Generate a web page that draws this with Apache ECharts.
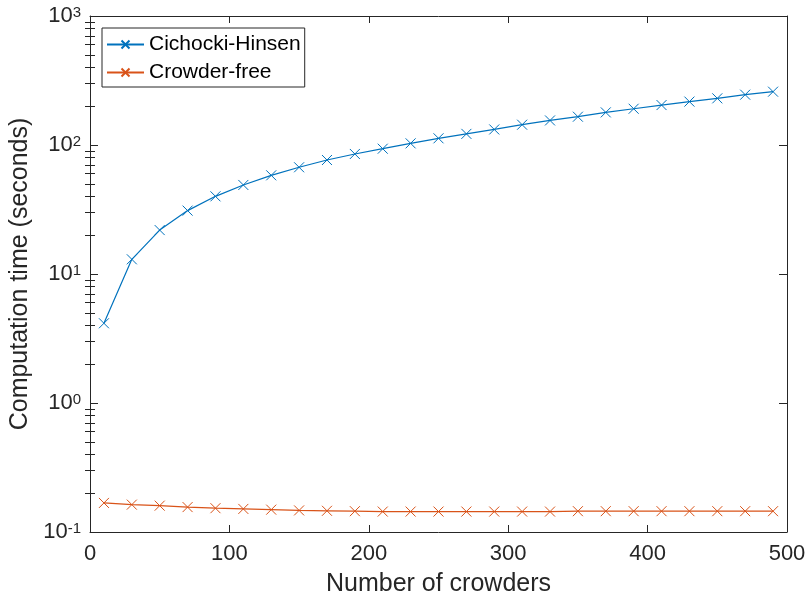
<!DOCTYPE html>
<html><head><meta charset="utf-8">
<script src="https://cdn.jsdelivr.net/npm/echarts@6/dist/echarts.min.js"></script>
<style>html,body{margin:0;padding:0;background:#fff}#c{width:807px;height:606px}</style>
</head><body><div id="c"></div>
<script>
// ---- data ----
const crowders = [10,30,50,70,90,110,130,150,170,190,210,230,250,270,290,310,330,350,370,390,410,430,450,470,490];
const cichockiHinsen = [4.15,13.0,21.9,31.0,40.0,49.0,58.2,67.2,76.5,85.2,93.6,103,112.7,122,132,143.7,155,165.7,179,191,204,217,230,245.5,259];
const crowderFree = [0.168,0.163,0.160,0.156,0.153,0.151,0.149,0.147,0.146,0.145,0.144,0.144,0.144,0.144,0.144,0.144,0.144,0.145,0.145,0.145,0.145,0.145,0.145,0.145,0.145];
const seriesNames = ['Cichocki-Hinsen','Crowder-free'];
const xTicks = [0,100,200,300,400,500];
const yExponents = [-1,0,1,2,3];

const FONT = 'Liberation Sans, Arial, Helvetica, sans-serif';
const AX = '#262626';
const minorLogs = [];
for (let d = yExponents[0]; d < yExponents[yExponents.length-1]; d++)
  for (let k = 2; k <= 9; k++) minorLogs.push(Math.log10(k) + d);

const xmin = xTicks[0], xmax = xTicks[xTicks.length-1];
const ymin = Math.pow(10, yExponents[0]), ymax = Math.pow(10, yExponents[yExponents.length-1]);

function xAx(pos, labels) {
  return {type:'value', position:pos, min:xmin, max:xmax, interval:100,
    axisLine:{show:true, onZero:false, lineStyle:{color:AX, width:1}},
    axisTick:{show:true, inside:true, length:7, lineStyle:{color:AX}},
    axisLabel:{show:labels, color:AX, fontSize:22, fontFamily:FONT, margin:11},
    splitLine:{show:false}};
}
function yLog(pos, labels) {
  return {type:'log', logBase:10, position:pos, min:ymin, max:ymax,
    axisLine:{show:true, onZero:false, lineStyle:{color:AX, width:1}},
    axisTick:{show:true, inside:true, length:8, lineStyle:{color:AX}},
    axisLabel:{show:labels, margin:9,
      formatter: v => '{b|10}{s|' + Math.round(Math.log10(v)) + '}',
      rich:{
        b:{fontSize:22, fontFamily:FONT, color:AX, verticalAlign:'bottom', lineHeight:22, padding:[10,0,0,0]},
        s:{fontSize:15, fontFamily:FONT, color:AX, verticalAlign:'top', lineHeight:15, padding:[0,0,17,0]}
      }},
    splitLine:{show:false}, minorTick:{show:false}};
}
function yMinor(pos) {
  return {type:'value', position:pos, min:yExponents[0], max:yExponents[yExponents.length-1],
    axisLine:{show:false},
    axisTick:{show:true, inside:true, length:5, customValues:minorLogs, lineStyle:{color:AX}},
    axisLabel:{show:false}, splitLine:{show:false}};
}

const chart = echarts.init(document.getElementById('c'), null, {renderer:'canvas'});
const blue = '#0072BD', orange = '#D95319';
const xsym = 'path://M0,0L10,10M10,0L0,10';
function mk(name, vals, color) {
  return {name, type:'line', xAxisIndex:0, yAxisIndex:0,
    data: crowders.map((x,i)=>[x, vals[i]]),
    symbol:xsym, symbolSize:10, showSymbol:true,
    lineStyle:{color, width:1.2},
    itemStyle:{color:'none', borderColor:color, borderWidth:1},
    emphasis:{disabled:true}, animation:false, z:3};
}
const xAy = Object.assign(xAx('bottom', true), {
  name:'Number of crowders', nameLocation:'middle', nameGap:40,
  nameTextStyle:{fontSize:25, fontFamily:FONT, color:AX}});
const yAy = Object.assign(yLog('left', true), {
  name:'Computation time (seconds)', nameLocation:'middle', nameGap:55,
  nameTextStyle:{fontSize:25, fontFamily:FONT, color:AX}});

chart.setOption({
  backgroundColor:'#fff',
  animation:false,
  grid:{left:90, right:20, top:16, bottom:74, containLabel:false, outerBoundsMode:'none'},
  xAxis:[xAy, xAx('top', false)],
  yAxis:[yAy, yLog('right', false), yMinor('left'), yMinor('right')],
  legend:{show:true, left:102, top:28, orient:'vertical', backgroundColor:'#fff',
    borderColor:AX, borderWidth:1, borderRadius:0, padding:[6,4,4,4], itemGap:7,
    itemWidth:37, itemHeight:10,
    textStyle:{fontSize:21, fontFamily:FONT, color:'#000'},
    data: seriesNames},
  series:[mk(seriesNames[0], cichockiHinsen, blue), mk(seriesNames[1], crowderFree, orange)]
});
</script></body></html>
